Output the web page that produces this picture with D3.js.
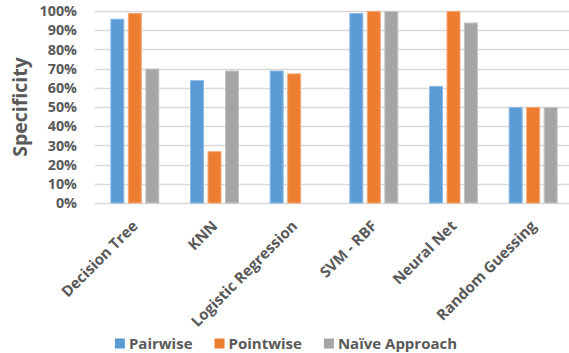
<!DOCTYPE html>
<html>
<head>
<meta charset="utf-8">
<script src="https://cdn.jsdelivr.net/npm/d3@7"></script>
<style>
  html, body { margin: 0; padding: 0; background: #fff; }
  svg { display: block; }
  text { font-family: "Open Sans", "Liberation Sans", sans-serif; font-weight: bold; fill: #595959; }
</style>
</head>
<body>
<svg id="chart" width="569" height="353"></svg>
<script>
// Classifier specificity by ranking approach
const categories = ["Decision Tree", "KNN", "Logistic Regression", "SVM - RBF", "Neural Net", "Random Guessing"];
const seriesNames = ["Pairwise", "Pointwise", "Naïve Approach"];
const pairwise  = [0.96, 0.64, 0.69, 0.99, 0.61, 0.50];
const pointwise = [0.99, 0.27, 0.675, 1.00, 1.00, 0.50];
const naive     = [0.70, 0.69, 0.00, 1.00, 0.94, 0.50];
const yTicks = [0, 0.1, 0.2, 0.3, 0.4, 0.5, 0.6, 0.7, 0.8, 0.9, 1.0];
const colors = ["#5B9BD5", "#ED7D31", "#A5A5A5"];
const edgeColors = ["#8DBBE6", "#F5A877", "#C4C4C4"];

const seriesValues = [pairwise, pointwise, naive];
const rows = categories.map((c, i) => ({
  category: c,
  values: seriesNames.map((s, j) => ({ series: s, idx: j, value: seriesValues[j][i] }))
}));

const svg = d3.select("#chart");
const plot = { left: 95, right: 573, top: 11, bottom: 203 };

const x0 = d3.scaleBand()
  .domain(categories)
  .range([plot.left, plot.right])
  .paddingInner(0.385)
  .paddingOuter(0.1925);

const x1 = d3.scaleBand()
  .domain(seriesNames)
  .range([0, x0.bandwidth()])
  .paddingInner(0.2);

const y = d3.scaleLinear().domain([0, 1]).range([plot.bottom, plot.top]);

// Horizontal gridlines
svg.append("g")
  .selectAll("line")
  .data(yTicks)
  .join("line")
  .attr("x1", plot.left)
  .attr("x2", plot.right)
  .attr("y1", d => Math.round(y(d)) + 0.5)
  .attr("y2", d => Math.round(y(d)) + 0.5)
  .attr("stroke", "#D9D9D9")
  .attr("stroke-width", 1.3);

// Y tick labels
svg.append("g")
  .selectAll("text")
  .data(yTicks)
  .join("text")
  .attr("x", 77)
  .attr("y", d => y(d))
  .attr("dy", "0.36em")
  .attr("text-anchor", "end")
  .style("font-size", "14.3px")
  .text(d => d3.format(".0%")(d));

// Bars
const groups = svg.append("g")
  .selectAll("g")
  .data(rows)
  .join("g")
  .attr("transform", d => `translate(${x0(d.category)},0)`);

groups.selectAll("rect")
  .data(d => d.values.filter(v => v.value > 0))
  .join("rect")
  .attr("x", d => x1(d.series) + 0.5)
  .attr("y", d => y(d.value) + 0.5)
  .attr("width", x1.bandwidth() - 1)
  .attr("height", d => y(0) - y(d.value) - 0.5)
  .attr("fill", d => colors[d.idx])
  .attr("stroke", d => edgeColors[d.idx])
  .attr("stroke-width", 1);

// Category labels, rotated
svg.append("g")
  .selectAll("text")
  .data(categories)
  .join("text")
  .attr("text-anchor", "end")
  .attr("transform", d => `translate(${x0(d) + x0.bandwidth() / 2 + 4},${plot.bottom + 24}) rotate(-45)`)
  .style("font-size", "15px")
  .text(d => d);

// Y axis title
svg.append("text")
  .attr("transform", `translate(27,${(plot.top + plot.bottom) / 2}) rotate(-90)`)
  .attr("text-anchor", "middle")
  .style("font-size", "19.5px")
  .text("Specificity");

// Legend, centred across the chart width
const legend = svg.append("g");
const items = legend.selectAll("g")
  .data(seriesNames)
  .join("g");
items.append("rect")
  .attr("width", 10)
  .attr("height", 10)
  .attr("y", -10.5)
  .attr("fill", (d, i) => colors[i]);
items.append("text")
  .attr("x", 14)
  .attr("y", 0)
  .style("font-size", "15px")
  .text(d => d);

let cursor = 0;
items.each(function () {
  const g = d3.select(this);
  g.attr("transform", `translate(${cursor},349)`);
  const w = 14 + g.select("text").node().getComputedTextLength();
  cursor += w + 22;
});
const totalWidth = cursor - 22;
legend.attr("transform", `translate(${286 - totalWidth / 2},0)`);
</script>
</body>
</html>
